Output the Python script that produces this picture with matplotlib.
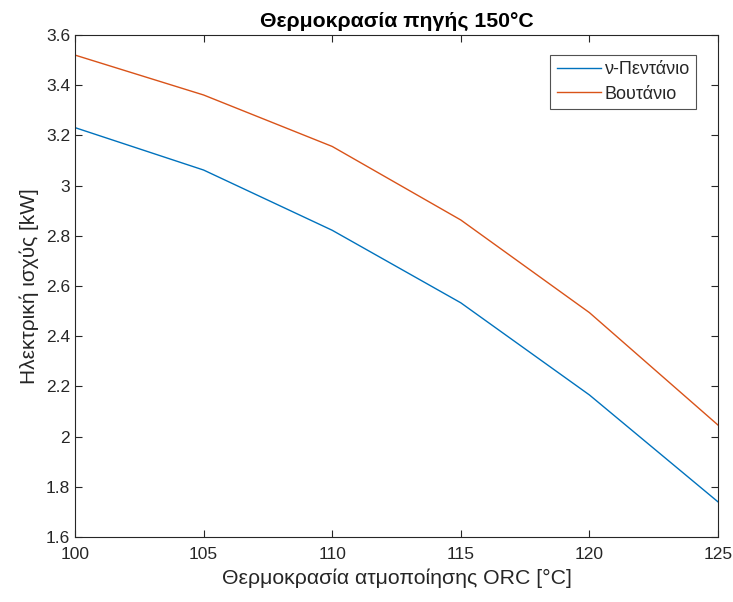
import matplotlib
matplotlib.use("Agg")
import matplotlib.pyplot as plt

# Evaporation temperature of the ORC [°C]
evap_temp = [100, 105, 110, 115, 120, 125]
# Electrical power output [kW] per working fluid
pentane_kw = [3.231, 3.062, 2.822, 2.533, 2.166, 1.740]
butane_kw = [3.520, 3.361, 3.156, 2.863, 2.494, 2.046]

series_labels = ["ν-Πεντάνιο", "Βουτάνιο"]
x_ticks = [100, 105, 110, 115, 120, 125]
y_ticks = [1.6, 1.8, 2.0, 2.2, 2.4, 2.6, 2.8, 3.0, 3.2, 3.4, 3.6]
y_ticklabels = ["1.6", "1.8", "2", "2.2", "2.4", "2.6", "2.8", "3", "3.2", "3.4", "3.6"]

plt.rcParams["font.family"] = ["Liberation Sans", "DejaVu Sans"]
ax_color = (0.15, 0.15, 0.15)

fig = plt.figure(figsize=(7.33, 6.02), dpi=100)
ax = fig.add_axes([75 / 733, 65 / 602, 643 / 733, 502 / 602])

ax.plot(evap_temp, pentane_kw, color="#0072BD", lw=1.0, label=series_labels[0])
ax.plot(evap_temp, butane_kw, color="#D95319", lw=1.0, label=series_labels[1])

ax.set_xlim(100, 125)
ax.set_ylim(1.6, 3.6)
ax.set_xticks(x_ticks)
ax.set_yticks(y_ticks)
ax.set_yticklabels(y_ticklabels)

ax.tick_params(direction="in", length=5, width=0.8, colors=ax_color,
               labelsize=12.5, top=True, right=True, labeltop=False, labelright=False)
ax.tick_params(axis="x", pad=7)
for sp in ax.spines.values():
    sp.set_color(ax_color)
    sp.set_linewidth(0.8)

ax.set_xlabel("Θερμοκρασία ατμοποίησης ORC [°C]", fontsize=15.3, color=ax_color, labelpad=5)
ax.set_ylabel("Ηλεκτρική ισχύς [kW]", fontsize=15, color=ax_color, labelpad=5)
ax.set_title("Θερμοκρασία πηγής 150°C", fontsize=15.3, fontweight="bold", color="black", pad=6)

leg = ax.legend(loc="upper right", bbox_to_anchor=(0.966, 0.960), borderaxespad=0,
                fontsize=13, frameon=True, fancybox=False, handlelength=2.45,
                handletextpad=0.2, borderpad=0.35, labelspacing=0.4)
leg.get_frame().set_edgecolor(ax_color)
leg.get_frame().set_linewidth(0.8)
for t in leg.get_texts():
    t.set_color(ax_color)

fig.savefig("out.png", dpi=100, facecolor="white")
